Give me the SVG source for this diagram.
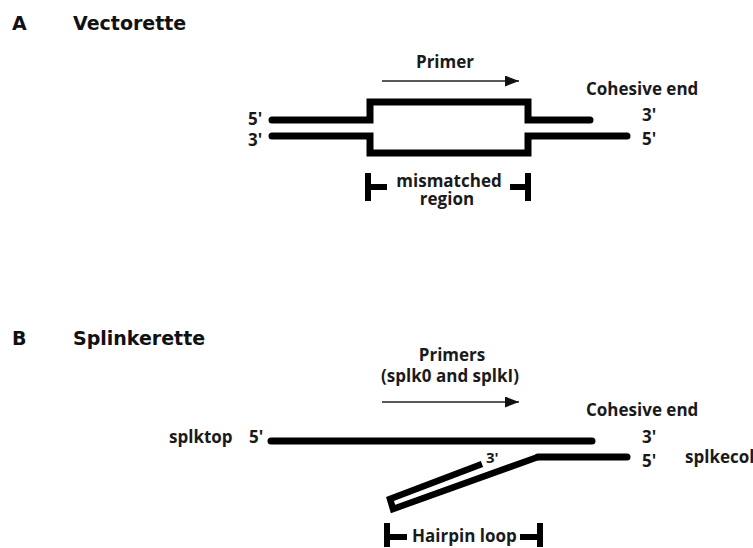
<svg xmlns="http://www.w3.org/2000/svg" width="753" height="548" viewBox="0 0 753 548">
<style>
  .hdr { font-family: "DejaVu Sans", Verdana, sans-serif; font-weight: 700; font-size: 19px; fill: #111; }
  .lbl { font-family: "Open Sans", "Liberation Sans", sans-serif; font-weight: 700; font-size: 17px; fill: #1a1a1a; }
  .sm { font-size: 15px; }
  .mid { text-anchor: middle; }
  .strand { fill: none; stroke: #000; stroke-width: 7; stroke-linecap: round; stroke-linejoin: miter; }
  .loop { stroke-width: 6.5; stroke-linecap: butt; }
  .brk { fill: none; stroke: #000; stroke-width: 6; stroke-linecap: butt; }
  .arr { fill: none; stroke: #222; stroke-width: 1.6; marker-end: url(#ah); }
</style>
<defs>
  <marker id="ah" markerUnits="userSpaceOnUse" markerWidth="16" markerHeight="12" refX="14" refY="5.5" orient="auto">
    <path d="M0,0 L14,5.5 L0,11 Z" fill="#111"/>
  </marker>
</defs>
<rect width="753" height="548" fill="#fff"/>

<!-- Panel A -->
<g id="panelA-title">
  <text class="hdr" x="12" y="30">A</text>
  <text class="hdr" x="73" y="30">Vectorette</text>
</g>
<g id="vectorette-top-strand">
  <path class="strand" d="M272,120 H370 V102 H528 V120 H590"/>
  <text class="lbl" x="248" y="125">5'</text>
  <text class="lbl" x="642" y="121">3'</text>
</g>
<g id="vectorette-bottom-strand">
  <path class="strand" d="M272,136 H370 V153 H528 V136 H627"/>
  <text class="lbl" x="248" y="146">3'</text>
  <text class="lbl" x="642" y="145">5'</text>
</g>
<g id="vectorette-cohesive-end">
  <text class="lbl" x="586" y="95">Cohesive end</text>
</g>
<g id="vectorette-primer">
  <text class="lbl mid" x="445" y="68">Primer</text>
</g>
<g id="mismatched-region">
  <path class="brk" d="M368,173 V201 M368,187 H387 M528,173 V201 M510,187 H528"/>
  <text class="lbl mid" x="449" y="187">mismatched</text>
  <text class="lbl mid" x="447" y="205">region</text>
</g>

<!-- Panel B -->
<g id="panelB-title">
  <text class="hdr" x="12" y="345">B</text>
  <text class="hdr" x="73" y="345">Splinkerette</text>
</g>
<g id="splktop">
  <path class="strand" d="M271,441 H592"/>
  <text class="lbl" x="169" y="443">splktop</text>
  <text class="lbl" x="249" y="443">5'</text>
  <text class="lbl" x="642" y="443">3'</text>
</g>
<g id="splkecol">
  <path class="strand" d="M627,457 H538"/>
  <path class="strand loop" d="M538,457 L393,509 L390,499 L482,464"/>
  <text class="lbl" x="642" y="467">5'</text>
  <text class="lbl" x="685" y="463">splkecol</text>
  <text class="lbl sm" x="486" y="463">3'</text>
</g>
<g id="splinkerette-cohesive-end">
  <text class="lbl" x="586" y="416">Cohesive end</text>
</g>
<g id="splinkerette-primers">
  <text class="lbl mid" x="452" y="361">Primers</text>
  <text class="lbl mid" x="450" y="382">(splk0 and splkI)</text>
</g>
<g id="hairpin-loop">
  <path class="brk" d="M387,523 V547 M387,537 H407 M540,523 V547 M520,537 H540"/>
  <text class="lbl" x="412" y="542">Hairpin loop</text>
</g>

<!-- Connectors -->
<g id="connectors">
  <line class="arr" x1="382" y1="81" x2="519" y2="81"/>
  <line class="arr" x1="382" y1="402" x2="519" y2="402"/>
</g>
</svg>
